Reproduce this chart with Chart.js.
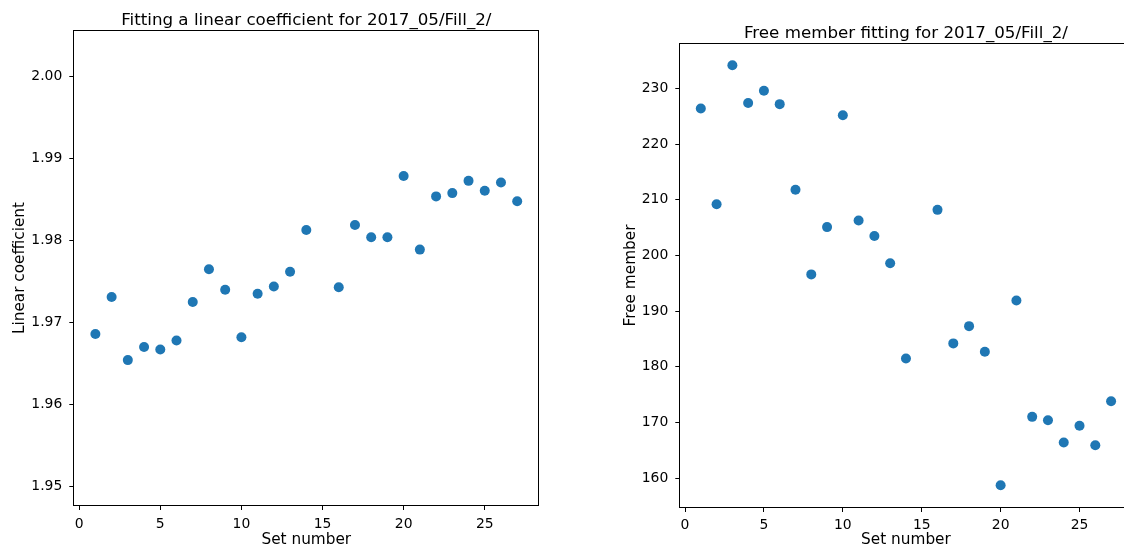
<!DOCTYPE html>
<html>
<head>
<meta charset="utf-8">
<script src="https://cdn.jsdelivr.net/npm/chart.js@4.4.1/dist/chart.umd.min.js"></script>
<style>
    html, body { margin: 0; padding: 0; background: #fff; overflow: hidden; width: 1124px; height: 547px; }
    #linearChart { position: absolute; left: 0; top: 0; }
    #freeChart { position: absolute; left: 560px; top: 0; }
</style>
</head>
<body>
<canvas id="linearChart" width="560" height="547"></canvas>
<canvas id="freeChart" width="580" height="547"></canvas>
<script>
// data (set 15 is missing in both plots)
const setNumbers = [1, 2, 3, 4, 5, 6, 7, 8, 9, 10, 11, 12, 13, 14, 16, 17, 18, 19, 20, 21, 22, 23, 24, 25, 26, 27];
const linearCoef = [1.9686, 1.9731, 1.9654, 1.9670, 1.9667, 1.9678, 1.9725, 1.9765, 1.9740, 1.9682, 1.9735, 1.9744, 1.9762,
    1.9813, 1.9743, 1.9819, 1.9804, 1.9804, 1.9879, 1.9789, 1.9854, 1.9858, 1.9873, 1.9861, 1.9871, 1.9848];
const freeMember = [226.4, 209.2, 234.2, 227.4, 229.6, 227.2, 211.8, 196.6, 205.1, 225.2, 206.3, 203.5, 198.6,
    181.5, 208.2, 184.2, 187.3, 182.7, 158.7, 191.9, 171.0, 170.4, 166.4, 169.4, 165.9, 173.8];

const xTicks = [0, 5, 10, 15, 20, 25];
const linearTicks = [1.95, 1.96, 1.97, 1.98, 1.99, 2.00];
const freeTicks = [160, 170, 180, 190, 200, 210, 220, 230];

const FONT = "'DejaVu Sans', 'Liberation Sans', sans-serif";
const DOT = "#1f77b4";

Chart.defaults.color = "#000";
Chart.defaults.font.family = FONT;

// box around the plot area, like matplotlib spines
const framePlugin = {
    id: "frame",
    afterDraw(chart) {
        const a = chart.chartArea;
        const ctx = chart.ctx;
        ctx.save();
        ctx.strokeStyle = "#000";
        ctx.lineWidth = 1;
        ctx.strokeRect(Math.round(a.left) - 0.5, Math.round(a.top) - 0.5,
            Math.round(a.right) - Math.round(a.left) + 1, Math.round(a.bottom) - Math.round(a.top) + 1);
        ctx.restore();
    },
};

function makeConfig(opts) {
    return {
        type: "scatter",
        data: {
            datasets: [{
                data: setNumbers.map((x, i) => ({ x: x, y: opts.values[i] })),
                backgroundColor: DOT,
                borderWidth: 0,
                pointRadius: 5,
                pointHoverRadius: 5,
            }],
        },
        options: {
            responsive: false,
            animation: false,
            layout: { padding: { left: 0, top: 0, right: opts.padRight, bottom: 0 } },
            plugins: {
                legend: { display: false },
                tooltip: { enabled: false },
                title: {
                    display: true,
                    fullSize: false,
                    text: opts.title,
                    color: "#000",
                    font: { size: 16.7, weight: "normal", family: FONT },
                    padding: { top: opts.titleTop, bottom: opts.titleBottom },
                },
            },
            scales: {
                x: {
                    type: "linear",
                    min: -0.3,
                    max: 28.3,
                    afterBuildTicks: (s) => { s.ticks = xTicks.map((v) => ({ value: v })); },
                    afterFit: (s) => { s.height = opts.xHeight; },
                    border: { display: false },
                    grid: { drawOnChartArea: false, drawTicks: true, tickLength: 5, color: "#000", lineWidth: 1 },
                    ticks: { padding: opts.xPad, font: { size: 13.9 }, color: "#000", maxRotation: 0 },
                    title: {
                        display: true,
                        text: "Set number",
                        color: "#000",
                        font: { size: 15.3, lineHeight: 0.9 },
                        padding: { top: 0, bottom: 0 },
                    },
                },
                y: {
                    type: "linear",
                    min: opts.yMin,
                    max: opts.yMax,
                    afterBuildTicks: (s) => { s.ticks = opts.yTicks.map((v) => ({ value: v })); },
                    afterFit: (s) => { s.width = opts.yWidth; },
                    border: { display: false },
                    grid: { drawOnChartArea: false, drawTicks: true, tickLength: 5, color: "#000", lineWidth: 1 },
                    ticks: {
                        padding: 7,
                        font: { size: 13.9 },
                        color: "#000",
                        callback: opts.fmt,
                    },
                    title: {
                        display: true,
                        text: opts.yTitle,
                        color: "#000",
                        font: { size: 15.3 },
                        padding: { top: opts.yTitlePad, bottom: 0 },
                    },
                },
            },
        },
        plugins: [framePlugin],
    };
}

new Chart(document.getElementById("linearChart"), makeConfig({
    values: linearCoef,
    title: "Fitting a linear coefficient for 2017_05/Fill_2/",
    titleTop: 10.2,
    titleBottom: 0.8,
    yTitle: "Linear coefficient",
    yTitlePad: 10.5,
    yMin: 1.9477,
    yMax: 2.0056,
    yTicks: linearTicks,
    yWidth: 74.3,
    padRight: 21.7,
    xHeight: 42,
    xPad: 6,
    fmt: (v) => Number(v).toFixed(2),
}));

new Chart(document.getElementById("freeChart"), makeConfig({
    values: freeMember,
    title: "Free member fitting for 2017_05/Fill_2/",
    titleTop: 23.5,
    titleBottom: 0.5,
    yTitle: "Free member",
    yTitlePad: 61.8,
    yMin: 154.8,
    yMax: 238.0,
    yTicks: freeTicks,
    yWidth: 120.3,
    padRight: 8.4,
    xHeight: 40,
    xPad: 5,
    fmt: (v) => String(Math.round(v)),
}));
</script>
</body>
</html>
